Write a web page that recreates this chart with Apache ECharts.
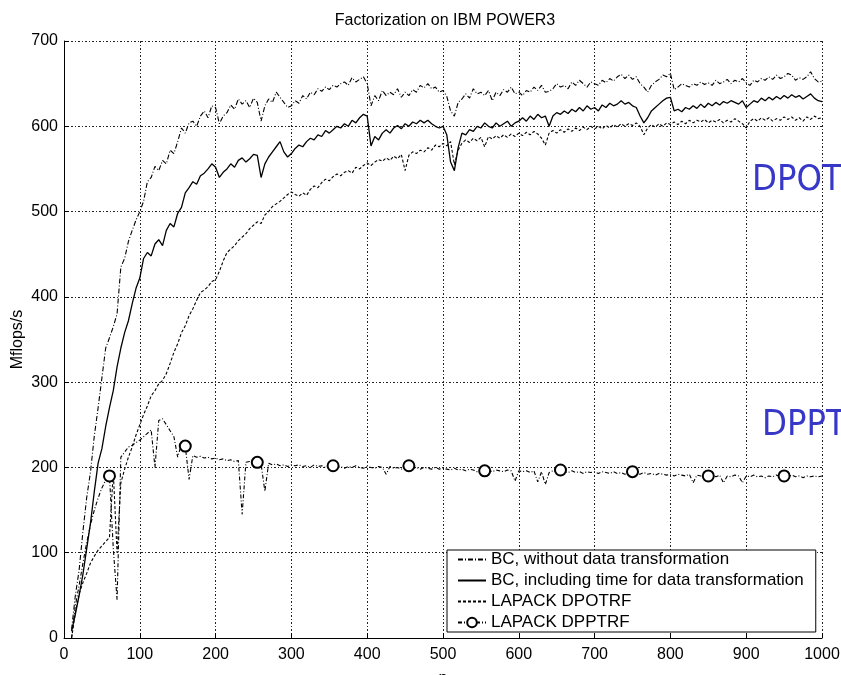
<!DOCTYPE html>
<html lang="en">
<head>
<meta charset="UTF-8">
<title>Factorization on IBM POWER3</title>
<script src="https://cdn.jsdelivr.net/npm/echarts@6.0.0/dist/echarts.min.js"></script>
<style>
  html, body { margin: 0; padding: 0; background: #fff; }
  #main { width: 841px; height: 675px; }
</style>
</head>
<body>
<div id="main"></div>
<script>
// n runs 10, 15, ... 1000 (199 sizes)
var nValues = [];
for (var n = 10; n <= 1000; n += 5) nValues.push(n);

// BC, without data transformation
var bcNoTrans = [
  10, 50, 80, 125, 165, 195, 237, 270,
  305, 340, 352, 365, 380, 435, 445, 465, 478, 490,
  500, 512, 535, 540, 553, 548, 560, 556, 572, 568,
  582, 598, 592, 604, 606, 600, 612, 618, 610, 624,
  622, 603, 612, 616, 625, 620, 632, 626, 630, 622,
  633, 628, 606, 624, 632, 628, 640, 634, 628, 622,
  624, 630, 627, 636, 632, 640, 637, 644, 641, 646,
  643, 648, 646, 650, 652, 648, 657, 652, 655, 658,
  650, 624, 636, 630, 642, 636, 640, 637, 644, 634,
  640, 636, 643, 640, 648, 645, 650, 644, 646, 640,
  642, 635, 618, 612, 628, 632, 638, 633, 644, 638,
  640, 636, 642, 630, 640, 636, 643, 640, 646, 638,
  640, 636, 642, 640, 646, 642, 648, 640, 641, 644,
  650, 646, 648, 644, 652, 648, 654, 650, 646, 652,
  650, 648, 654, 651, 656, 653, 658, 661, 656, 660,
  655, 658, 650, 646, 640, 648, 652, 655, 660, 658,
  662, 643, 646, 650, 648, 646, 650, 648, 652, 649,
  651, 648, 654, 650, 652, 655, 650, 654, 652, 656,
  651, 648, 654, 652, 656, 654, 658, 655, 660, 656,
  658, 662, 660, 654, 657, 655, 658, 664, 656, 652,
  653
];

// BC, including time for data transformation
var bcWithTrans = [
  8, 28, 50, 75, 105, 135, 172, 205,
  222, 248, 270, 290, 318, 340, 358, 372, 392, 410,
  422, 445, 452, 448, 462, 467, 460, 478, 486, 482,
  498, 505, 522, 528, 535, 532, 542, 545, 550, 556,
  552, 540, 546, 550, 556, 552, 560, 563, 558, 562,
  567, 566, 540, 556, 564, 570, 576, 582, 570, 564,
  568, 574, 578, 576, 582, 586, 584, 590, 588, 595,
  592, 596, 600, 598, 603, 600, 607, 604, 610, 614,
  612, 577, 588, 584, 592, 596, 592, 598, 601, 597,
  603, 600, 605, 603, 607, 604, 607, 603, 600, 598,
  600, 590, 558, 548, 575, 592, 590, 596, 594, 600,
  598, 604, 600, 598, 604, 600, 603, 606, 600, 604,
  606, 610, 606, 612, 608, 614, 610, 612, 600, 612,
  616, 614, 618, 615, 620, 617, 622, 618, 624, 620,
  622, 618, 625, 622, 627, 624, 626, 630, 626, 628,
  624, 622, 612, 604, 610, 618, 622, 626, 630, 633,
  634, 618, 620, 617, 622, 620, 624, 621, 626, 622,
  627, 624, 628, 625, 629, 627, 630, 628, 626, 630,
  622, 626, 630, 628, 633, 630, 634, 631, 635, 632,
  636, 633, 637, 634, 636, 632, 635, 638, 633, 630,
  629
];

// LAPACK DPOTRF
var dpotrf = [
  0, 30, 52, 65, 76, 88, 96, 103,
  108, 113, 118, 195, 100, 182, 198, 212, 224, 238,
  250, 262, 272, 284, 290, 298, 302, 310, 322, 335,
  345, 358, 366, 378, 386, 396, 405, 408, 412, 418,
  420, 430, 442, 452, 456, 460, 466, 470, 474, 480,
  484, 488, 486, 496, 500, 506, 509, 512, 516, 520,
  523, 520, 518, 522, 519, 526, 530, 528, 534, 538,
  536, 541, 544, 542, 546, 548, 545, 552, 550, 554,
  557, 554, 558, 561, 559, 563, 560, 565, 562, 567,
  548, 566, 570, 568, 572, 570, 575, 572, 578, 576,
  580, 577, 582, 555, 572, 580, 584, 581, 586, 583,
  587, 576, 588, 585, 589, 586, 590, 587, 591, 588,
  592, 589, 593, 590, 594, 591, 586, 578, 592, 595,
  592, 596, 593, 597, 594, 598, 595, 599, 596, 600,
  597, 600, 597, 601, 598, 602, 599, 603, 600, 603,
  601, 604, 600, 590, 598, 602, 599, 603, 600, 604,
  602, 605, 602, 606, 603, 607, 604, 607, 605, 608,
  604, 607, 605, 608, 604, 607, 605, 609, 606, 603,
  598, 606, 609, 606, 610, 607, 610, 606, 609, 607,
  611, 608, 611, 607, 610, 606, 611, 608, 612, 609,
  610
];

// LAPACK DPPTRF
var dpptrf = [
  0, 38, 62, 88, 112, 133, 150, 164,
  176, 185, 190, 105, 45, 212, 218, 224, 226, 229,
  232, 236, 240, 244, 200, 255, 257, 250, 243, 236,
  212, 228, 225, 186, 214, 212, 213, 211, 212, 210,
  211, 209, 210, 208, 209, 207, 208, 145, 206, 207,
  205, 206, 204, 172, 205, 203, 204, 202, 203, 201,
  203, 202, 203, 201, 202, 200, 203, 201, 202, 200,
  202, 202, 200, 201, 199, 201, 200, 202, 200, 199,
  201, 200, 199, 201, 200, 192, 201, 199, 200, 198,
  201, 202, 199, 200, 198, 200, 199, 198, 200, 198,
  199, 198, 197, 199, 197, 198, 196, 198, 197, 195,
  197, 196, 197, 195, 197, 196, 195, 197, 196, 184,
  196, 195, 196, 194, 196, 183, 195, 180, 194, 196,
  195, 197, 195, 194, 196, 194, 195, 193, 195, 194,
  195, 193, 195, 194, 193, 195, 193, 194, 192, 194,
  195, 193, 192, 194, 192, 193, 191, 193, 192, 191,
  192, 190, 192, 191, 190, 192, 182, 191, 190, 191,
  190, 191, 189, 191, 182, 190, 189, 191, 190, 182,
  190, 189, 191, 189, 190, 188, 190, 189, 191, 189,
  190, 189, 191, 189, 190, 188, 190, 189, 190, 189,
  190
];
// sizes where the DPPTRF circle markers sit
var dpptrfMarks = [60, 160, 255, 355, 455, 555, 655, 750, 850, 950];

var seriesNames = [
  'BC, without data transformation',
  'BC, including time for data transformation',
  'LAPACK DPOTRF',
  'LAPACK DPPTRF'
];

var FONT = 'Liberation Sans, Arial, sans-serif';

function toPairs(vals) {
  return vals.map(function (v, i) { return [nValues[i], v]; });
}

var dpptrfData = dpptrf.map(function (v, i) {
  var nn = nValues[i];
  if (dpptrfMarks.indexOf(nn) >= 0) return { value: [nn, v] };
  return { value: [nn, v], symbol: 'none' };
});

var chart = echarts.init(document.getElementById('main'));

var axisCommon = {
  type: 'value',
  axisLine: { show: true, lineStyle: { color: '#000', width: 1 } },
  axisTick: { show: true, inside: true, length: 5, lineStyle: { color: '#000' } },
  axisLabel: { color: '#000', fontSize: 16, fontFamily: FONT, formatter: function (v) { return String(v); } },
  splitLine: { show: true, lineStyle: { color: '#222', width: 1, type: [2, 2, 1, 2] } },
  nameTextStyle: { color: '#000', fontSize: 16, fontFamily: FONT }
};

// hide the marker in the legend for the plain line series
var legendItems = seriesNames.map(function (name, i) {
  if (i < 3) return { name: name, itemStyle: { opacity: 0 } };
  return { name: name };
});

chart.setOption({
  animation: false,
  backgroundColor: '#fff',
  title: {
    text: 'Factorization on IBM POWER3',
    left: 440,
    top: 8,
    textAlign: 'center',
    textStyle: { color: '#000', fontSize: 16, fontWeight: 'normal', fontFamily: FONT }
  },
  grid: { left: 64, right: 19, top: 41, bottom: 37, containLabel: false, outerBoundsMode: 'none' },
  xAxis: Object.assign({}, axisCommon, {
    min: 0, max: 1000, interval: 100,
    name: 'n', nameLocation: 'middle', nameGap: 33, nameMoveOverlap: false,
    axisLabel: Object.assign({}, axisCommon.axisLabel, { margin: 9 })
  }),
  yAxis: Object.assign({}, axisCommon, {
    min: 0, max: 700, interval: 100,
    name: 'Mflops/s', nameLocation: 'middle', nameGap: 38, nameRotate: 90, nameMoveOverlap: false,
    axisLabel: Object.assign({}, axisCommon.axisLabel, { margin: 6 })
  }),
  legend: {
    orient: 'vertical',
    left: 447,
    top: 550,
    backgroundColor: '#fff',
    borderColor: '#000',
    borderWidth: 1,
    borderRadius: 0,
    padding: [1, 12, 1, 10],
    itemWidth: 28,
    itemHeight: 12,
    itemGap: 4,
    textStyle: { color: '#000', fontSize: 17, lineHeight: 16, fontFamily: FONT },
    data: legendItems
  },
  series: [
    {
      name: seriesNames[0], type: 'line', symbol: 'none',
      data: toPairs(bcNoTrans),
      lineStyle: { color: '#000', width: 1.1, type: [5, 2, 1, 2] },
      itemStyle: { color: '#000' }
    },
    {
      name: seriesNames[1], type: 'line', symbol: 'none',
      data: toPairs(bcWithTrans),
      lineStyle: { color: '#000', width: 1.3, type: 'solid' },
      itemStyle: { color: '#000' }
    },
    {
      name: seriesNames[2], type: 'line', symbol: 'none',
      data: toPairs(dpotrf),
      lineStyle: { color: '#000', width: 1.1, type: [3, 2] },
      itemStyle: { color: '#000' }
    },
    {
      name: seriesNames[3], type: 'line',
      symbol: 'emptyCircle', symbolSize: 11,
      showSymbol: true, showAllSymbol: true,
      data: dpptrfData,
      lineStyle: { color: '#000', width: 1.1, type: [4, 2, 1, 2] },
      itemStyle: { color: '#000', borderColor: '#000', borderWidth: 1 }
    }
  ],
  graphic: [
    {
      type: 'text', left: 752, top: 163, z: 10,
      style: { text: 'DPOT', font: '36px "DejaVu Sans Condensed", "DejaVu Sans", sans-serif', fill: '#3838c8' }
    },
    {
      type: 'text', left: 762, top: 408, z: 10,
      style: { text: 'DPPT', font: '36px "DejaVu Sans Condensed", "DejaVu Sans", sans-serif', fill: '#3838c8' }
    }
  ]
});
</script>
</body>
</html>
